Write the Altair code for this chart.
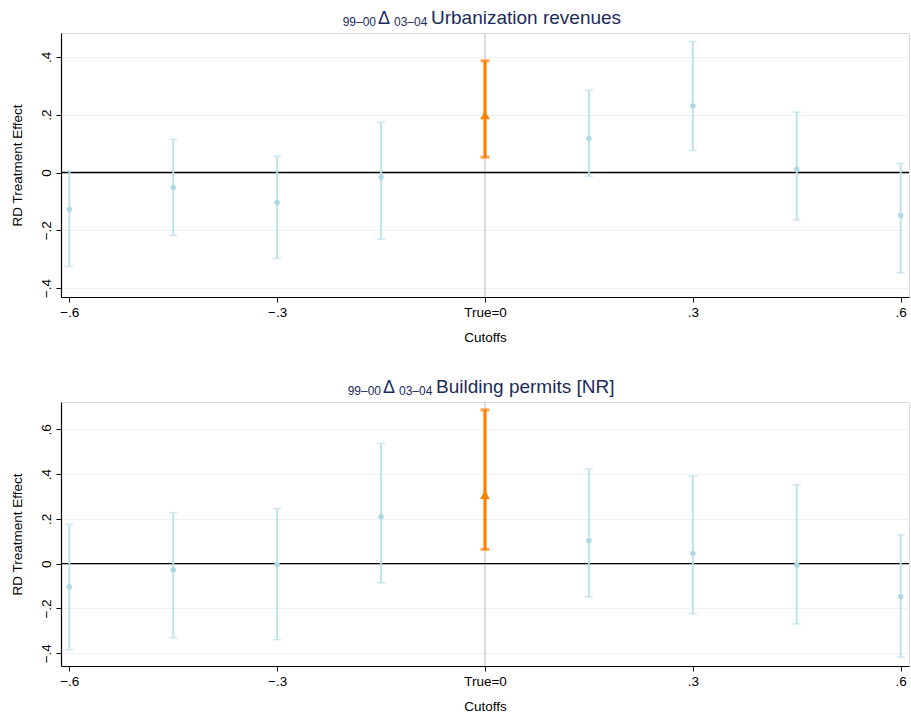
import altair as alt
import pandas as pd

# Cutoff positions (the true cutoff is at 0)
cutoffs = [-0.6, -0.45, -0.3, -0.15, 0.0, 0.15, 0.3, 0.45, 0.6]

# Panel 1: 99-00 -> 03-04 change in urbanization revenues
urb_est = [-0.127, -0.052, -0.104, -0.016, 0.199, 0.118, 0.230, 0.011, -0.149]
urb_lo = [-0.325, -0.218, -0.297, -0.231, 0.053, -0.013, 0.076, -0.164, -0.347]
urb_hi = [0.005, 0.115, 0.057, 0.174, 0.387, 0.285, 0.453, 0.209, 0.031]

# Panel 2: 99-00 -> 03-04 change in building permits [NR]
bp_est = [-0.103, -0.027, -0.004, 0.210, 0.308, 0.102, 0.046, -0.006, -0.148]
bp_lo = [-0.385, -0.331, -0.340, -0.085, 0.064, -0.148, -0.224, -0.269, -0.417]
bp_hi = [0.176, 0.228, 0.246, 0.537, 0.687, 0.422, 0.391, 0.352, 0.128]

x_ticks = [-0.6, -0.3, 0.0, 0.3, 0.6]

FONT = "Liberation Sans"
BLUE = "#add8e6"
BLUE_LINE = "#bcdfea"
ORANGE = "#ff7f00"
NAVY = "#1a2c5b"
GRID = "#eaf2f3"

PANEL_W = 848
PANEL_H = 264

num_fmt = "replace(format(datum.value, '.1f'), '0.', '.')"
y_label_expr = f"abs(datum.value) < 1e-9 ? '0' : {num_fmt}"
x_label_expr = f"abs(datum.value) < 1e-9 ? 'True=0' : {num_fmt}"


def panel(est, lo, hi, y_domain, y_ticks, label, title_x):
    df = pd.DataFrame({"cutoff": cutoffs, "est": est, "lo": lo, "hi": hi})
    df["is_true"] = df["cutoff"].abs() < 1e-9
    other = alt.Chart(df).transform_filter("!datum.is_true")
    true = alt.Chart(df).transform_filter("datum.is_true")

    x = alt.X(
        "cutoff:Q",
        scale=alt.Scale(domain=[-0.612, 0.612], nice=False, zero=False),
        axis=alt.Axis(
            values=x_ticks,
            labelExpr=x_label_expr,
            title="Cutoffs",
            grid=False,
            tickSize=5,
            labelPadding=3,
            titlePadding=12,
            labelAngle=0,
        ),
    )
    y_scale = alt.Scale(domain=y_domain, nice=False, zero=False)
    y_axis = alt.Axis(
        values=y_ticks,
        labelExpr=y_label_expr,
        title="RD Treatment Effect",
        grid=True,
        gridColor=GRID,
        tickSize=5,
        labelAngle=270,
        labelAlign="center",
        labelBaseline="bottom",
        labelPadding=3,
        titlePadding=15,
    )

    base_df = pd.DataFrame({"v": [0.0]})
    vline = alt.Chart(base_df).mark_rule(color="#c6c6c6", strokeWidth=1.2).encode(
        x=alt.X("v:Q")
    )
    hline = alt.Chart(base_df).mark_rule(color="black", strokeWidth=1.4).encode(
        y=alt.Y("v:Q")
    )

    ci = other.mark_rule(color=BLUE_LINE, strokeWidth=1.8).encode(
        x=x, y=alt.Y("lo:Q", scale=y_scale, axis=y_axis), y2="hi:Q"
    )
    cap_lo = other.mark_tick(orient="horizontal", color=BLUE_LINE, size=8, thickness=1.6).encode(
        x="cutoff:Q", y="lo:Q"
    )
    cap_hi = other.mark_tick(orient="horizontal", color=BLUE_LINE, size=8, thickness=1.6).encode(
        x="cutoff:Q", y="hi:Q"
    )
    pts = other.mark_circle(color=BLUE, size=30, opacity=1).encode(x="cutoff:Q", y="est:Q")

    t_ci = true.mark_rule(color=ORANGE, strokeWidth=3.2).encode(x="cutoff:Q", y="lo:Q", y2="hi:Q")
    t_lo = true.mark_tick(orient="horizontal", color=ORANGE, size=9, thickness=3).encode(
        x="cutoff:Q", y="lo:Q"
    )
    t_hi = true.mark_tick(orient="horizontal", color=ORANGE, size=9, thickness=3).encode(
        x="cutoff:Q", y="hi:Q"
    )
    t_pt = true.mark_point(shape="triangle-up", filled=True, color=ORANGE, size=95, opacity=1).encode(
        x="cutoff:Q", y="est:Q"
    )

    # Title: subscripted periods around a Delta, then the outcome name
    def txt(text, xpos, size, align, ypos):
        return alt.Chart(base_df).mark_text(
            text=text, font=FONT, fontSize=size, color=NAVY, align=align, baseline="alphabetic"
        ).encode(x=alt.value(xpos), y=alt.value(ypos))

    title = (
        txt("99\u201300", title_x, 12, "right", -7)
        + txt("\u0394", title_x + 2, 18, "left", -9)
        + txt("03\u201304", title_x + 18, 12, "left", -7)
        + txt(label, title_x + 55, 19, "left", -9)
    )

    return alt.layer(
        vline, hline, ci, cap_lo, cap_hi, pts, t_ci, t_lo, t_hi, t_pt, title
    ).properties(width=PANEL_W, height=PANEL_H)


top = panel(urb_est, urb_lo, urb_hi, [-0.431, 0.483], [-0.4, -0.2, 0, 0.2, 0.4],
            "Urbanization revenues", 315)
bottom = panel(bp_est, bp_lo, bp_hi, [-0.457, 0.722], [-0.4, -0.2, 0, 0.2, 0.4, 0.6],
               "Building permits [NR]", 320)

chart = (
    alt.vconcat(top, bottom, spacing=105, bounds="flush")
    .resolve_scale(y="independent")
    .properties(padding={"left": 9, "top": 8, "right": 0, "bottom": 5})
    .configure_view(stroke=None)
    .configure(font=FONT)
    .configure_axis(
        labelFont=FONT,
        titleFont=FONT,
        labelFontSize=13.5,
        titleFontSize=13.5,
        labelColor="black",
        titleColor="black",
        titleFontWeight="normal",
        domainColor="black",
        domainWidth=1.2,
        tickColor="black",
        tickWidth=1,
    )
)

chart.save("out.html", embed_options={"renderer": "svg", "actions": False})
